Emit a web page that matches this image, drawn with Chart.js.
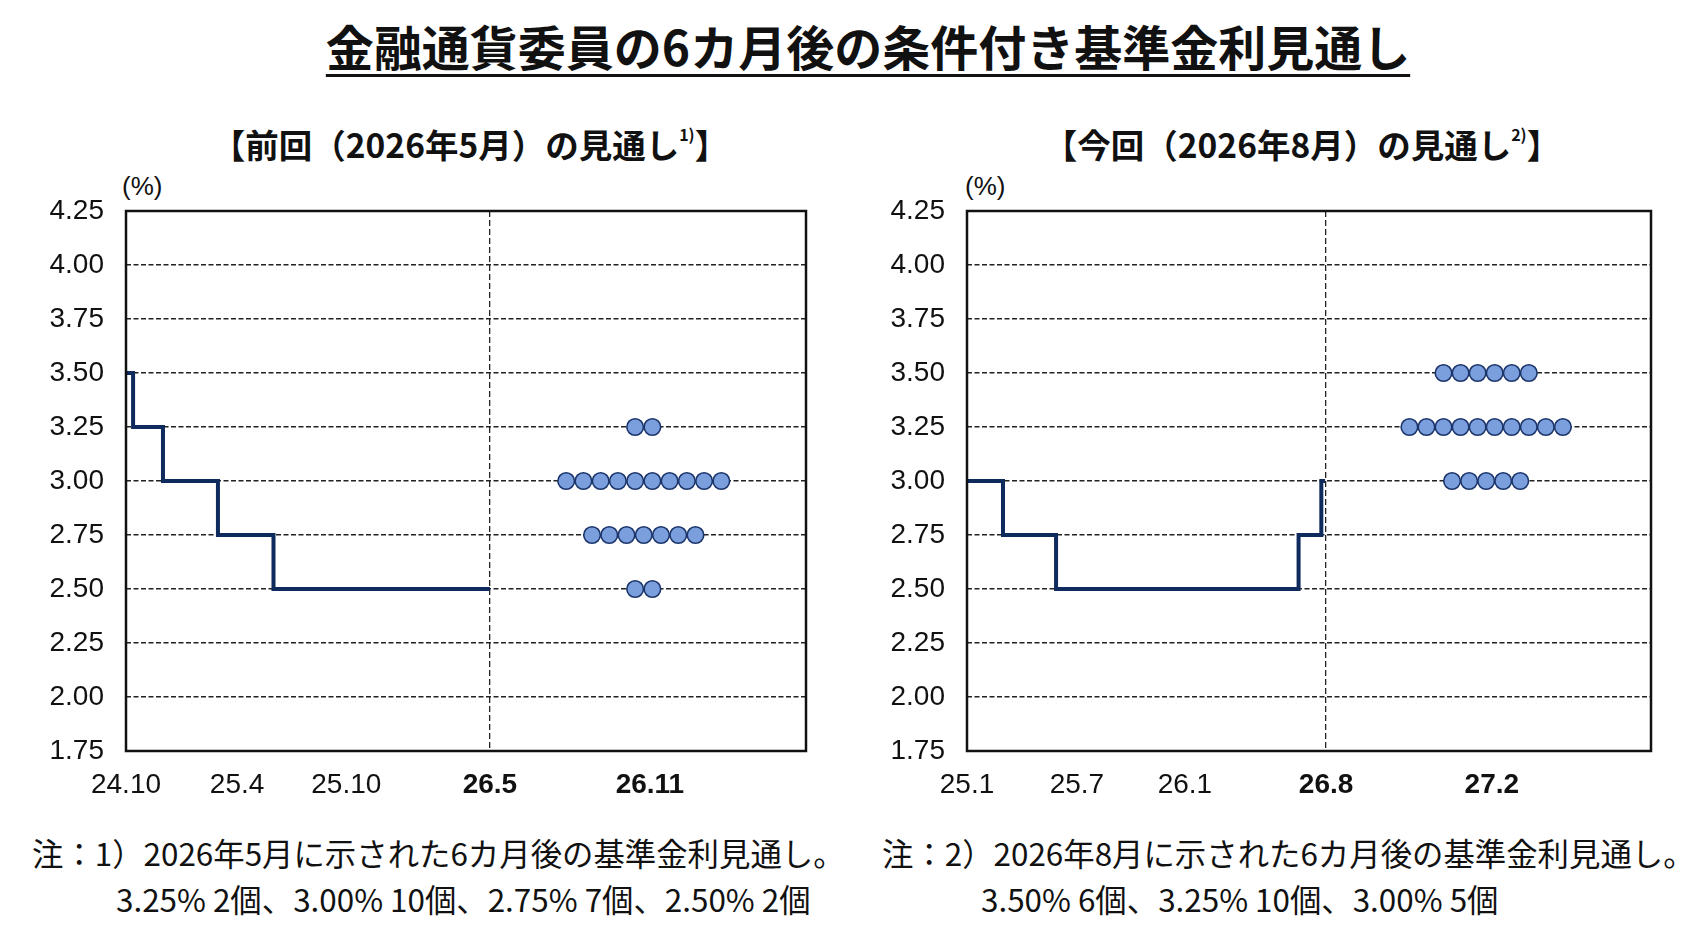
<!DOCTYPE html>
<html lang="ja">
<head>
<meta charset="utf-8">
<script src="https://cdn.jsdelivr.net/npm/chart.js@4.4.1/dist/chart.umd.min.js"></script>
<style>
  html, body { margin: 0; padding: 0; background: #fff; }
  body { width: 1691px; height: 930px; position: relative; overflow: hidden;
         font-family: "Noto Sans CJK JP", sans-serif; color: #111; }
  .abs { position: absolute; white-space: nowrap; }
  .title { left: 868px; top: 10px; transform: translateX(-50%); font-size: 48px; font-weight: bold;
           text-decoration: underline; text-decoration-thickness: 3px; text-underline-offset: 8px; }
  .sub { top: 119px; transform: translateX(-50%); font-size: 33.5px; font-weight: bold; }
  .sub sup { font-size: 16px; position: relative; top: -5px; }
  .unit { font-family: "Liberation Sans", Arial, sans-serif; font-size: 26px; top: 171px; }
  .note { font-size: 31.4px; }
  .box { position: absolute; }
</style>
</head>
<body>
<div class="abs title">金融通貨委員の6カ月後の条件付き基準金利見通し</div>
<div class="abs sub" style="left:470px">【前回（2026年5月）の見通し<sup>1)</sup>】</div>
<div class="abs sub" style="left:1302px">【今回（2026年8月）の見通し<sup>2)</sup>】</div>
<div class="abs unit" style="left:122px">(%)</div>
<div class="abs unit" style="left:965px">(%)</div>

<div class="box" style="left:0px;top:170px;width:830px;height:640px"><canvas id="chartPrev"></canvas></div>
<div class="box" style="left:845px;top:170px;width:846px;height:640px"><canvas id="chartCurr"></canvas></div>

<div class="abs note" style="left:32px;top:830px">注：1）2026年5月に示された6カ月後の基準金利見通し。</div>
<div class="abs note" style="left:116px;top:876px">3.25% 2個、3.00% 10個、2.75% 7個、2.50% 2個</div>
<div class="abs note" style="left:882px;top:830px">注：2）2026年8月に示された6カ月後の基準金利見通し。</div>
<div class="abs note" style="left:981px;top:876px">3.50% 6個、3.25% 10個、3.00% 5個</div>

<script>
// previous outlook (months since 2024.10)
const prevDates = [0, 0.37, 1.93, 4.8, 7.7, 19];
const prevRates = [3.50, 3.25, 3.00, 2.75, 2.50, 2.50];
const prevLevels = [3.25, 3.00, 2.75, 2.50];
const prevCounts = [2, 10, 7, 2];
const prevTicks = [0, 5.8, 11.5, 19, 27.35];
const prevTickLabels = ["24.10", "25.4", "25.10", "26.5", "26.11"];

// current outlook (months since 2025.1)
const currDates = [0, 1.9, 4.7, 17.5, 18.7, 18.9];
const currRates = [3.00, 2.75, 2.50, 2.75, 3.00, 3.00];
const currLevels = [3.50, 3.25, 3.00];
const currCounts = [6, 10, 5];
const currTicks = [0, 5.8, 11.5, 18.95, 27.7];
const currTickLabels = ["25.1", "25.7", "26.1", "26.8", "27.2"];

const yTicks = [1.75, 2.00, 2.25, 2.50, 2.75, 3.00, 3.25, 3.50, 3.75, 4.00, 4.25];

const NAVY = "#0f2a5c";
const DOT_FILL = "#7b9fdd";
const DOT_EDGE = "#1b356b";
const TICK_FONT = "'Liberation Sans', Arial, sans-serif";

const framePlugin = {
    id: "frame",
    afterDraw(chart) {
        const a = chart.chartArea;
        const ctx = chart.ctx;
        ctx.save();
        ctx.strokeStyle = "#111";
        ctx.lineWidth = 2.5;
        ctx.strokeRect(a.left, a.top, a.right - a.left, a.bottom - a.top);
        ctx.restore();
    },
};

function makeChart(id, dates, rates, levels, counts, center, tickPos, tickLabels, divider, xMax, yWidth, padRight) {
    const line = dates.map((d, i) => ({ x: d, y: rates[i] }));
    const dots = [];
    levels.forEach((lv, i) => {
        const n = counts[i];
        for (let j = 0; j < n; j++) {
            dots.push({ x: center + (j - (n - 1) / 2) * 0.9, y: lv });
        }
    });

    return new Chart(document.getElementById(id), {
        type: "scatter",
        data: {
            datasets: [
                {
                    data: line,
                    showLine: true,
                    stepped: "before",
                    borderColor: NAVY,
                    borderWidth: 4,
                    pointRadius: 0,
                },
                {
                    data: dots,
                    showLine: false,
                    pointRadius: 8.3,
                    pointBackgroundColor: DOT_FILL,
                    pointBorderColor: DOT_EDGE,
                    pointBorderWidth: 1.6,
                },
            ],
        },
        options: {
            responsive: true,
            maintainAspectRatio: false,
            animation: false,
            layout: { padding: { top: 41, right: padRight, left: 0, bottom: 0 } },
            plugins: { legend: { display: false }, tooltip: { enabled: false } },
            scales: {
                x: {
                    type: "linear",
                    min: 0,
                    max: xMax,
                    afterBuildTicks: (axis) => {
                        axis.ticks = tickPos.map((v) => ({ value: v }));
                    },
                    afterFit: (axis) => {
                        axis.height = 59;
                    },
                    border: { display: false, dash: [6, 3] },
                    grid: {
                        drawTicks: false,
                        color: (ctx) => (ctx.tick && ctx.tick.value === divider ? "#222" : "rgba(0,0,0,0)"),
                        lineWidth: 1.3,
                    },
                    ticks: {
                        padding: 17,
                        color: "#111",
                        maxRotation: 0,
                        autoSkip: false,
                        font: (ctx) => ({
                            family: TICK_FONT,
                            size: 28,
                            weight: ctx.index >= 3 ? "bold" : "normal",
                        }),
                        callback: (v, i) => tickLabels[i],
                    },
                },
                y: {
                    min: 1.75,
                    max: 4.25,
                    afterBuildTicks: (axis) => {
                        axis.ticks = yTicks.map((v) => ({ value: v }));
                    },
                    afterFit: (axis) => {
                        axis.width = yWidth;
                    },
                    border: { display: false, dash: [5, 2.5] },
                    grid: {
                        drawTicks: false,
                        color: (ctx) =>
                            ctx.tick && (ctx.tick.value === 1.75 || ctx.tick.value === 4.25) ? "rgba(0,0,0,0)" : "#222",
                        lineWidth: 1.5,
                    },
                    ticks: {
                        padding: 22,
                        color: "#111",
                        font: { family: TICK_FONT, size: 28 },
                        callback: (v) => Number(v).toFixed(2),
                    },
                },
            },
        },
        plugins: [framePlugin],
    });
}

makeChart("chartPrev", prevDates, prevRates, prevLevels, prevCounts, 27.03,
    prevTicks, prevTickLabels, 19, 35.5, 126, 24);
makeChart("chartCurr", currDates, currRates, currLevels, currCounts, 27.4,
    currTicks, currTickLabels, 18.95, 36.1, 122, 40);
</script>
</body>
</html>
